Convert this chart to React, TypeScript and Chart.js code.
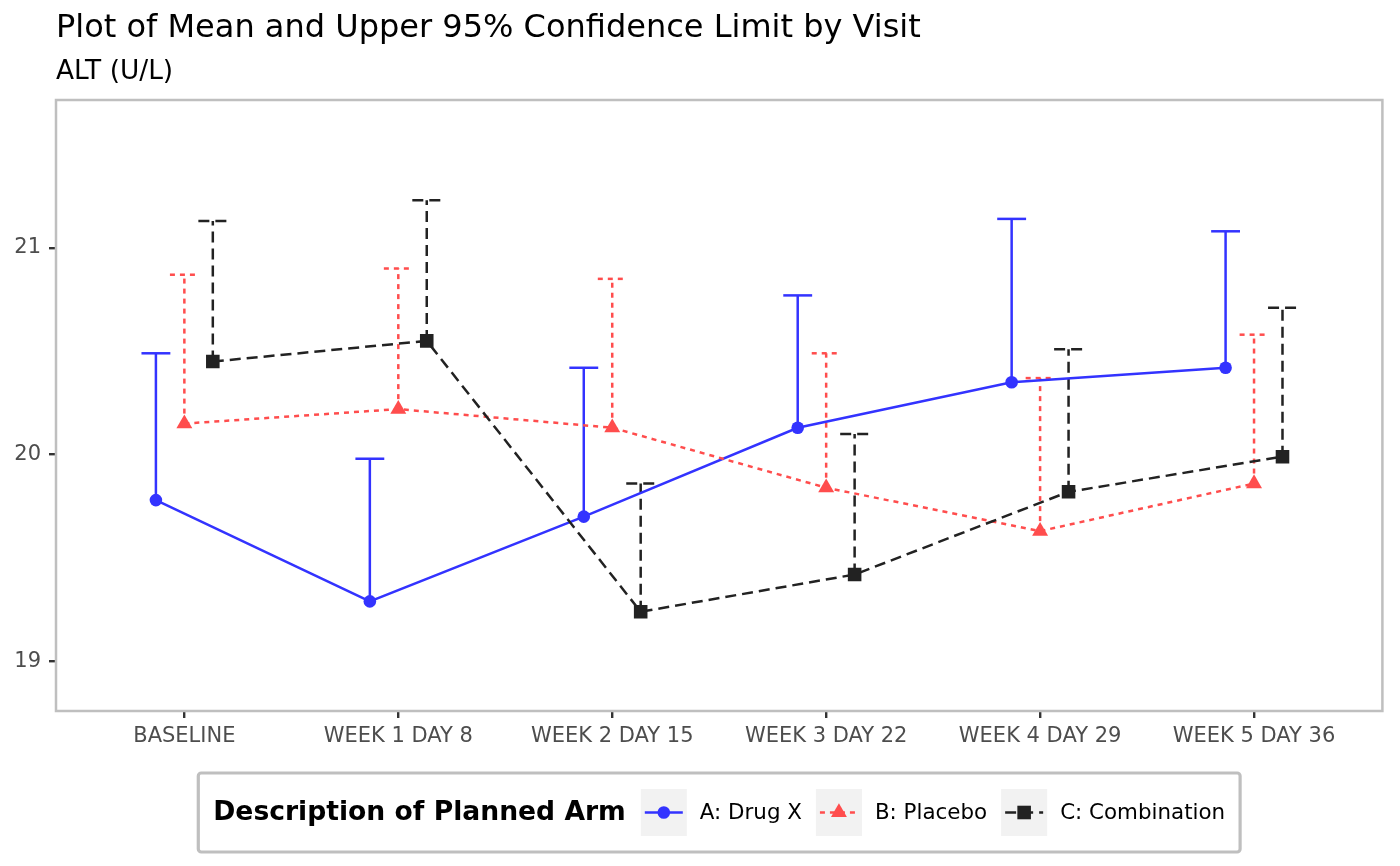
import { useEffect, useRef } from 'react';
import { Chart, registerables } from 'chart.js';

Chart.register(...registerables);

const visits = ['BASELINE', 'WEEK 1 DAY 8', 'WEEK 2 DAY 15', 'WEEK 3 DAY 22', 'WEEK 4 DAY 29', 'WEEK 5 DAY 36'];
const yTicks = [19, 20, 21];

const armLabels = ['A: Drug X', 'B: Placebo', 'C: Combination'];
const drugXMean = [19.78, 19.29, 19.70, 20.13, 20.35, 20.42];
const drugXUpper = [20.49, 19.98, 20.42, 20.77, 21.14, 21.08];
const placeboMean = [20.15, 20.22, 20.13, 19.84, 19.63, 19.86];
const placeboUpper = [20.87, 20.90, 20.85, 20.49, 20.37, 20.58];
const comboMean = [20.45, 20.55, 19.24, 19.42, 19.82, 19.99];
const comboUpper = [21.13, 21.23, 19.86, 20.10, 20.51, 20.71];

const FONT = "'DejaVu Sans', sans-serif";
const colors = ['#3333ff', '#ff4d4d', '#222222'];
const dashes = [[], [5, 5], [11, 6]];
const shapes = ['circle', 'triangle', 'rect'];
const radii = [6.3, 9.2, 9.6];
const dodge = [-0.133, 0, 0.133];
const capWidth = 0.135;
const LW = 2.5;

const means = [drugXMean, placeboMean, comboMean];
const uppers = [drugXUpper, placeboUpper, comboUpper];

const pos = (i: number, s: number) => i + 1 + dodge[s];

function drawMarker(ctx: CanvasRenderingContext2D, shape: string, x: number, y: number, r: number) {
  ctx.beginPath();
  if (shape === 'circle') {
    ctx.arc(x, y, r, 0, Math.PI * 2);
  } else if (shape === 'triangle') {
    for (let k = 0; k < 3; k++) {
      const a = -Math.PI / 2 + (k * 2 * Math.PI) / 3;
      const px = x + r * Math.cos(a);
      const py = y + r * Math.sin(a);
      if (k === 0) ctx.moveTo(px, py);
      else ctx.lineTo(px, py);
    }
    ctx.closePath();
  } else {
    const h = r * Math.SQRT1_2;
    ctx.rect(x - h, y - h, 2 * h, 2 * h);
  }
  ctx.fill();
}

const decorPlugin = {
  id: 'decor',
  beforeDatasetsDraw(chart: any) {
    const { ctx } = chart;
    const xs = chart.scales.x;
    const ys = chart.scales.y;
    ctx.save();
    ctx.lineWidth = LW;
    ctx.lineCap = 'butt';
    uppers.forEach((up, s) => {
      ctx.strokeStyle = colors[s];
      ctx.setLineDash(dashes[s]);
      up.forEach((u, i) => {
        const x = xs.getPixelForValue(pos(i, s));
        const y0 = ys.getPixelForValue(means[s][i]);
        const y1 = ys.getPixelForValue(u);
        ctx.beginPath();
        ctx.moveTo(x, y0);
        ctx.lineTo(x, y1);
        ctx.stroke();
        ctx.beginPath();
        ctx.moveTo(xs.getPixelForValue(pos(i, s) - capWidth / 2), y1);
        ctx.lineTo(xs.getPixelForValue(pos(i, s) + capWidth / 2), y1);
        ctx.stroke();
      });
    });
    ctx.restore();
  },
  afterDraw(chart: any) {
    const { ctx, chartArea } = chart;
    ctx.save();
    // panel border
    ctx.strokeStyle = '#bfbfbf';
    ctx.lineWidth = 2.5;
    ctx.strokeRect(chartArea.left, chartArea.top, chartArea.right - chartArea.left, chartArea.bottom - chartArea.top);

    // titles
    ctx.fillStyle = '#000000';
    ctx.textAlign = 'left';
    ctx.textBaseline = 'alphabetic';
    ctx.font = `32px ${FONT}`;
    ctx.fillText('Plot of Mean and Upper 95% Confidence Limit by Visit', chartArea.left, 29);
    ctx.font = `26.4px ${FONT}`;
    ctx.fillText('ALT (U/L)', chartArea.left, 71);

    // legend
    const titleFont = `bold 26.6px ${FONT}`;
    const labelFont = `21.4px ${FONT}`;
    ctx.font = titleFont;
    const titleW = ctx.measureText('Description of Planned Arm').width;
    ctx.font = labelFont;
    const labelWs = armLabels.map((l) => ctx.measureText(l).width);
    const keyW = 46;
    const keyH = 47;
    const padX = 15;
    let total = padX + titleW;
    labelWs.forEach((w, k) => {
      total += (k === 0 ? 15 : 14) + keyW + 13 + w;
    });
    total += padX;
    const cx = (chartArea.left + chartArea.right) / 2;
    const bx = cx - total / 2;
    const by = 765;
    const bh = 79;
    const cy = by + bh / 2;
    ctx.strokeStyle = '#bfbfbf';
    ctx.lineWidth = 3.2;
    ctx.beginPath();
    ctx.roundRect(bx, by, total, bh, 3);
    ctx.stroke();

    let x = bx + padX;
    ctx.textBaseline = 'middle';
    ctx.fillStyle = '#000000';
    ctx.font = titleFont;
    ctx.fillText('Description of Planned Arm', x, cy + 1);
    x += titleW;
    armLabels.forEach((label, k) => {
      x += k === 0 ? 15 : 14;
      ctx.fillStyle = '#f2f2f2';
      ctx.fillRect(x, cy - keyH / 2, keyW, keyH);
      ctx.strokeStyle = colors[k];
      ctx.lineWidth = LW;
      ctx.setLineDash(dashes[k]);
      ctx.beginPath();
      ctx.moveTo(x + 4, cy);
      ctx.lineTo(x + keyW - 4, cy);
      ctx.stroke();
      ctx.setLineDash([]);
      ctx.fillStyle = colors[k];
      drawMarker(ctx, shapes[k], x + keyW / 2, cy, radii[k]);
      x += keyW + 13;
      ctx.fillStyle = '#000000';
      ctx.font = labelFont;
      ctx.fillText(label, x, cy + 1);
      x += labelWs[k];
    });
    ctx.restore();
  },
};

export default function App() {
  const canvasRef = useRef<HTMLCanvasElement>(null);
  const chartRef = useRef<Chart | null>(null);

  useEffect(() => {
    if (!canvasRef.current) return;
    if (chartRef.current) chartRef.current.destroy();

    const datasets = means.map((m, s) => ({
      label: armLabels[s],
      data: m.map((v, i) => ({ x: pos(i, s), y: v })),
      borderColor: colors[s],
      backgroundColor: colors[s],
      borderWidth: LW,
      borderDash: dashes[s],
      pointStyle: shapes[s],
      pointRadius: radii[s],
      pointBorderWidth: 0,
      pointBackgroundColor: colors[s],
      tension: 0,
      order: 2 - s,
    }));

    chartRef.current = new Chart(canvasRef.current, {
      type: 'line',
      data: { datasets },
      plugins: [decorPlugin],
      options: {
        animation: false,
        responsive: true,
        maintainAspectRatio: false,
        layout: { padding: { top: 92, right: 8, bottom: 107, left: 0 } },
        plugins: {
          legend: { display: false },
          tooltip: { enabled: false },
        },
        scales: {
          x: {
            type: 'linear',
            min: 0.4,
            max: 6.6,
            afterBuildTicks: (scale: any) => {
              scale.ticks = visits.map((_, i) => ({ value: i + 1 }));
            },
            afterFit: (scale: any) => {
              scale.height = 40;
            },
            ticks: {
              callback: (v: any) => visits[Math.round(Number(v)) - 1] ?? '',
              color: '#4d4d4d',
              font: { family: FONT, size: 21 },
              padding: 6,
              maxRotation: 0,
              autoSkip: false,
            },
            grid: { drawOnChartArea: false, drawTicks: true, tickLength: 7, color: '#333333', lineWidth: 2.4 },
            border: { display: false },
          },
          y: {
            type: 'linear',
            min: 18.76,
            max: 21.715,
            afterBuildTicks: (scale: any) => {
              scale.ticks = yTicks.map((v) => ({ value: v }));
            },
            afterFit: (scale: any) => {
              scale.width = 48;
            },
            ticks: {
              callback: (v: any) => String(v),
              color: '#4d4d4d',
              font: { family: FONT, size: 21 },
              padding: 8,
            },
            grid: { drawOnChartArea: false, drawTicks: true, tickLength: 7, color: '#333333', lineWidth: 2.4 },
            border: { display: false },
          },
        },
      },
    });

    return () => {
      if (chartRef.current) {
        chartRef.current.destroy();
        chartRef.current = null;
      }
    };
  }, []);

  return (
    <div style={{ width: 1384, height: 850, position: 'relative' }}>
      <canvas ref={canvasRef} />
    </div>
  );
}
